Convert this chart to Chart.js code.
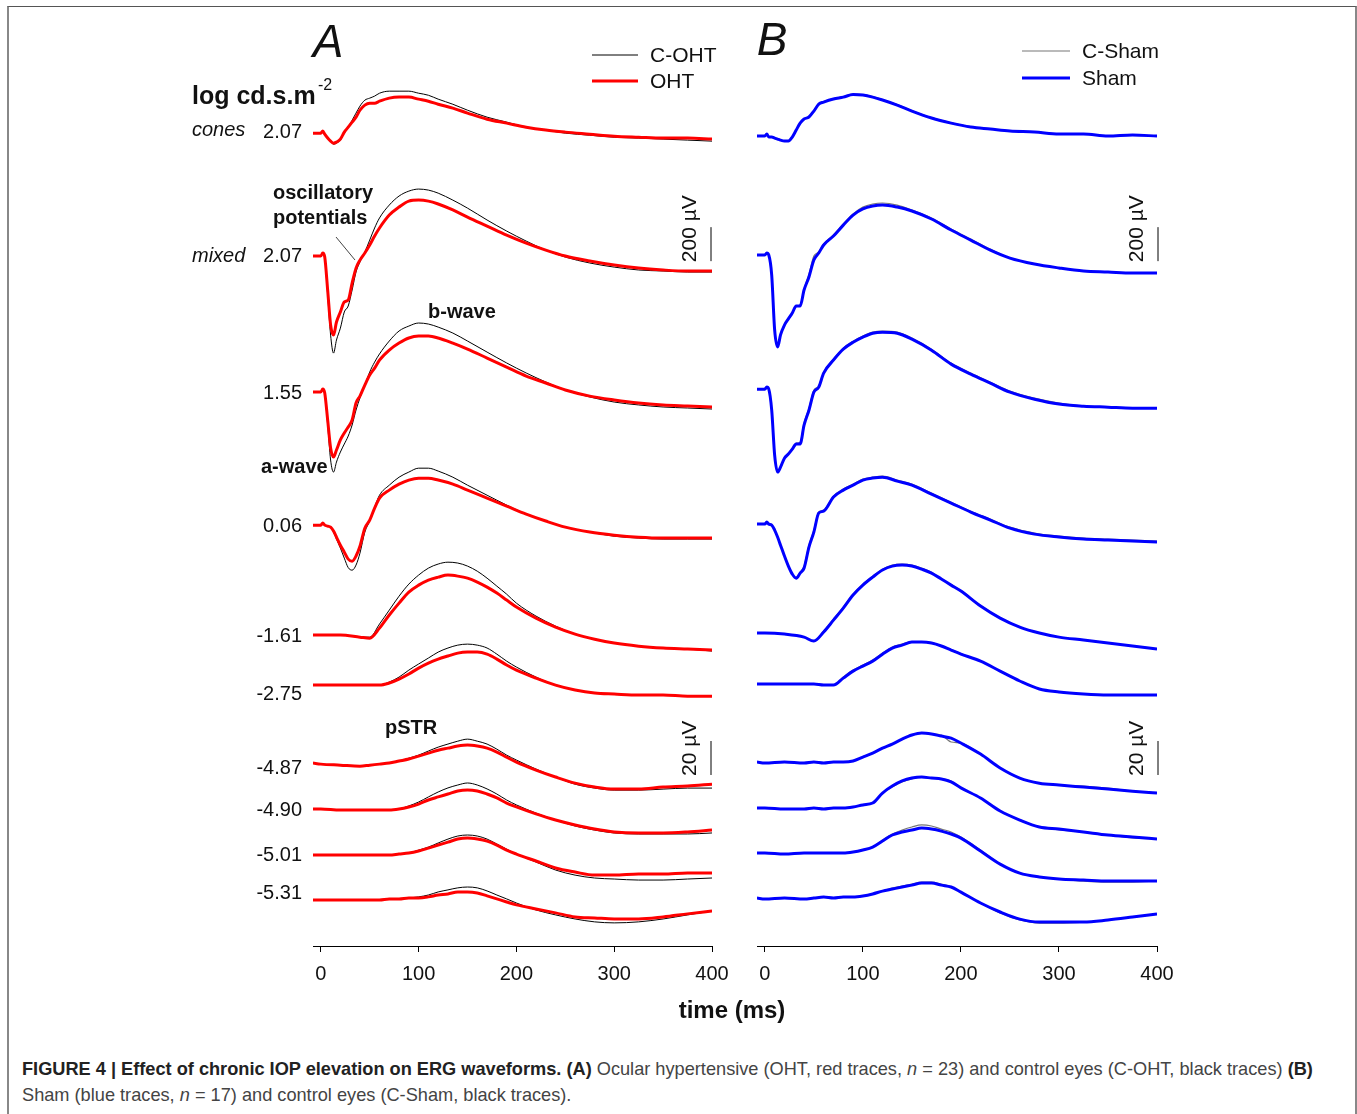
<!DOCTYPE html>
<html>
<head>
<meta charset="utf-8">
<script src="https://cdn.jsdelivr.net/npm/chart.js@4.4.1/dist/chart.umd.min.js"></script>
<style>
  body { margin: 0; background: #fff; font-family: "Liberation Sans", Arial, sans-serif; }
  #fig { position: relative; width: 1357px; height: 1114px; overflow: hidden; }
  #frame { position: absolute; left: 7px; top: 6px; width: 1346px; height: 1200px; border-top: 1px solid #555; border-left: 2px solid #888; border-right: 2px solid #888; }
  canvas { position: absolute; left: 0; top: 0; }
  #xtitle { position: absolute; left: 632px; width: 200px; top: 996px; text-align: center; font-weight: bold; font-size: 24px; color: #111; }
  #caption { position: absolute; left: 22px; top: 1056px; font-size: 18.2px; line-height: 26px; color: #444; white-space: nowrap; }
  #caption b { color: #222; }
</style>
</head>
<body>
<div id="fig">
  <div id="frame"></div>
  <canvas id="chartA" width="1357" height="1040"></canvas>
  <canvas id="chartB" width="1357" height="1040"></canvas>
  <div id="xtitle">time (ms)</div>
  <div id="caption"><b>FIGURE 4 | Effect of chronic IOP elevation on ERG waveforms. (A)</b> Ocular hypertensive (OHT, red traces, <i>n</i> = 23) and control eyes (C-OHT, black traces) <b>(B)</b><br>Sham (blue traces, <i>n</i> = 17) and control eyes (C-Sham, black traces).</div>
</div>
<script>
// time samples (ms) - bright flashes need fine steps around the a-wave
const tBright = [-8, 0, 2, 4, 7, 10, 13, 16, 20, 24, 28, 32, 36, 40, 45, 50, 55, 60, 70, 80, 90, 100, 110, 120, 135, 150, 170, 190, 210, 230, 250, 275, 300, 325, 350, 375, 400];
const tDim = [-8, 0, 20, 40, 50, 60, 70, 80, 90, 100, 110, 120, 130, 140, 150, 160, 170, 180, 190, 200, 220, 240, 260, 280, 300, 325, 350, 375, 400];
const xTicks = [0, 100, 200, 300, 400];

// flash intensities, log cd.s.m-2
const levels = ['2.07', '2.07', '1.55', '0.06', '-1.61', '-2.75', '-4.87', '-4.90', '-5.01', '-5.31'];
// pSTR traces are drawn at 10x gain (20 uV bar)
const gains = [1, 1, 1, 1, 1, 1, 10, 10, 10, 10];

// panel A - OHT (red) and C-OHT (black), uV
const ohtCones207 = [0, 0, 12, -6, -29, -47, -59, -53, -35, 6, 35, 65, 94, 135, 165, 176, 176, 188, 206, 212, 212, 200, 188, 170, 147, 118, 82, 59, 35, 18, 6, -6, -18, -24, -29, -29, -35];
const cohtCones207 = [0, 0, 12, -6, -29, -47, -65, -59, -41, 0, 35, 76, 118, 159, 194, 206, 218, 235, 247, 247, 247, 235, 223, 200, 170, 135, 94, 65, 35, 18, 0, -12, -24, -29, -35, -41, -47];
const ohtMixed207 = [0, 0, 18, -6, -200, -406, -465, -388, -329, -270, -259, -159, -71, -24, 18, 65, 118, 165, 241, 288, 323, 329, 323, 306, 271, 229, 176, 123, 76, 35, 0, -29, -53, -71, -82, -88, -88];
const cohtMixed207 = [0, 0, 18, -6, -229, -465, -571, -494, -424, -329, -294, -200, -94, -35, 24, 94, 165, 224, 300, 353, 382, 394, 388, 370, 329, 282, 212, 147, 88, 35, -6, -41, -65, -82, -88, -94, -94];
const oht155 = [0, 0, 18, -6, -165, -329, -382, -341, -282, -241, -206, -165, -65, -24, 41, 100, 141, 188, 247, 288, 318, 329, 329, 318, 288, 253, 200, 147, 94, 53, 12, -24, -47, -65, -76, -82, -88];
const coht155 = [0, 0, 18, -6, -194, -400, -471, -412, -353, -306, -259, -194, -106, -35, 41, 118, 176, 224, 300, 359, 388, 406, 400, 382, 347, 300, 235, 171, 112, 59, 12, -29, -59, -76, -88, -94, -100];
const oht006 = [0, 0, 12, 0, -6, -12, -35, -71, -118, -159, -200, -212, -182, -124, -18, 29, 100, 159, 206, 241, 265, 276, 276, 265, 241, 206, 159, 112, 65, 24, -12, -41, -59, -71, -76, -76, -76];
const coht006 = [0, 0, 12, 0, -6, -12, -41, -82, -135, -194, -250, -265, -235, -165, -41, 24, 106, 176, 235, 282, 312, 335, 335, 318, 282, 235, 176, 118, 65, 24, -12, -41, -65, -76, -82, -82, -82];
const ohtM161 = [0, 0, 0, -12, -18, 41, 118, 188, 253, 294, 324, 341, 353, 347, 335, 312, 282, 247, 206, 165, 100, 47, 6, -24, -47, -65, -76, -82, -88];
const cohtM161 = [0, 0, 0, -12, -12, 65, 147, 229, 300, 353, 394, 418, 429, 424, 406, 376, 335, 288, 241, 188, 112, 53, 6, -24, -47, -65, -76, -82, -94];
const ohtM275 = [0, 0, 0, 0, 0, 0, 12, 35, 65, 100, 129, 153, 171, 188, 194, 194, 182, 153, 118, 88, 41, 0, -29, -47, -53, -59, -59, -65, -65];
const cohtM275 = [0, 0, 0, 0, 0, 0, 18, 47, 88, 124, 159, 194, 218, 235, 241, 235, 218, 182, 141, 106, 47, 0, -29, -47, -53, -59, -59, -65, -65];
const ohtM487 = [0, -0.6, -1.2, -1.8, -1.2, -0.6, 0, 1.2, 2.4, 4.1, 5.9, 7.6, 8.8, 10, 10.6, 10, 8.8, 6.5, 3.5, 0.6, -4.1, -8.2, -11.8, -14.1, -15.3, -15.3, -14.1, -13.5, -12.4];
const cohtM487 = [0, -0.6, -1.2, -1.8, -1.2, -0.6, 0, 1.2, 2.9, 4.7, 7.1, 9.4, 11.2, 12.9, 14.1, 12.9, 11.2, 8.2, 4.7, 1.8, -3.5, -8.2, -12.4, -14.7, -15.9, -15.9, -15.3, -14.7, -14.7];
const ohtM490 = [0, 0, -0.6, -0.6, -0.6, -0.6, -0.6, 0, 1.2, 2.9, 5.3, 7.1, 8.8, 10.6, 11.2, 10.6, 8.8, 6.5, 3.5, 1.2, -2.9, -6.5, -9.4, -11.8, -13.5, -14.1, -14.1, -13.5, -12.4];
const cohtM490 = [0, 0, -0.6, -0.6, -0.6, -0.6, -0.6, 0, 1.8, 4.1, 7.1, 10, 12.4, 14.1, 15.3, 14.1, 11.8, 8.8, 5.3, 2.4, -2.4, -6.5, -10, -12.4, -14.1, -14.7, -14.7, -14.7, -14.1];
const ohtM501 = [0, 0, 0, 0, 0, 0, 0, 0.6, 1.2, 2.4, 4.1, 5.9, 7.6, 9.4, 10, 9.4, 8.2, 5.9, 2.9, 0.6, -3.5, -7.6, -10, -11.8, -11.8, -11.2, -11.2, -10.6, -10.6];
const cohtM501 = [0, 0, 0, 0, 0, 0, 0, 0.6, 1.2, 2.9, 4.7, 7.1, 9.4, 11.2, 11.8, 11.2, 9.4, 6.5, 3.5, 0.6, -4.1, -8.8, -11.8, -13.5, -14.1, -14.7, -14.7, -14.1, -13.5];
const ohtM531 = [0, 0, 0, 0, 0, 0, 0.6, 0.6, 1.2, 1.2, 1.8, 2.9, 3.5, 4.7, 4.7, 4.1, 2.4, 0.6, -1.2, -2.9, -5.3, -7.6, -10, -10.6, -11.2, -11.2, -10, -8.2, -6.5];
const cohtM531 = [0, 0, 0, 0, 0, 0, 0.6, 0.6, 1.2, 1.8, 2.9, 4.7, 5.9, 7.1, 7.6, 7.1, 5.3, 2.9, 0.6, -1.8, -5.9, -8.8, -11.2, -12.9, -13.5, -12.9, -11.2, -8.8, -6.5];

// panel B - Sham (blue) and C-Sham (grey), uV
const shamCones207 = [0, 0, 12, -6, -6, -12, -18, -24, -29, -29, -6, 35, 76, 100, 112, 147, 188, 200, 218, 229, 244, 241, 229, 212, 182, 147, 106, 76, 53, 41, 29, 24, 12, 12, 0, 6, 0];
const cshamCones207 = [0, 0, 12, -6, -6, -12, -18, -24, -29, -29, -6, 35, 76, 100, 112, 150, 190, 203, 220, 232, 247, 244, 232, 215, 185, 150, 108, 78, 55, 42, 30, 24, 14, 12, 2, 6, 0];
const shamMixed207 = [0, 0, 12, 0, -118, -441, -541, -470, -412, -376, -341, -300, -300, -206, -129, -29, 12, 59, 112, 176, 235, 271, 288, 294, 282, 259, 212, 147, 88, 29, -18, -53, -76, -94, -100, -106, -106];
const cshamMixed207 = [0, 0, 12, 0, -118, -441, -541, -470, -412, -376, -341, -300, -294, -200, -112, -6, 18, 65, 118, 182, 241, 282, 300, 306, 294, 265, 218, 153, 94, 35, -18, -53, -76, -94, -100, -106, -106];
const sham155 = [0, 0, 12, 0, -124, -388, -488, -459, -406, -382, -353, -323, -323, -212, -124, -18, 12, 94, 171, 235, 276, 306, 329, 335, 329, 294, 229, 147, 88, 35, -18, -59, -88, -100, -106, -112, -112];
const csham155 = [0, 0, 12, 0, -124, -388, -488, -459, -406, -382, -353, -318, -312, -200, -112, -6, 18, 100, 176, 241, 282, 312, 335, 341, 335, 300, 235, 153, 94, 41, -12, -53, -82, -100, -106, -112, -112];
const sham006 = [0, 0, 12, 0, -6, -35, -76, -124, -188, -247, -294, -318, -288, -259, -135, -47, 65, 76, 159, 200, 229, 259, 271, 276, 253, 229, 176, 124, 71, 24, -24, -59, -76, -88, -94, -100, -106];
const csham006 = [0, 0, 12, 0, -6, -35, -76, -124, -188, -247, -294, -318, -282, -247, -124, -35, 71, 82, 165, 206, 235, 265, 276, 282, 259, 235, 182, 129, 76, 29, -18, -53, -71, -82, -88, -94, -100];
const shamM161 = [0, 0, -6, -24, -47, 6, 76, 147, 224, 282, 329, 371, 394, 400, 394, 376, 353, 318, 282, 247, 159, 88, 35, 0, -24, -41, -59, -76, -94];
const cshamM161 = [0, 0, -6, -24, -47, 12, 82, 153, 229, 288, 335, 376, 400, 406, 400, 382, 357, 320, 285, 250, 162, 90, 35, 0, -24, -41, -59, -76, -94];
const shamM275 = [0, 0, 0, 0, 0, -6, -6, 35, 76, 106, 135, 176, 212, 229, 247, 247, 241, 224, 200, 176, 135, 76, 18, -29, -47, -59, -65, -65, -65];
const cshamM275 = [0, 0, 0, 0, 0, -6, -6, 41, 82, 112, 141, 182, 218, 235, 250, 250, 244, 226, 203, 178, 135, 76, 18, -29, -47, -59, -65, -65, -65];
const shamM487 = [0, -0.6, 0, -0.6, 0, -0.6, 0, 0, 0.6, 2.9, 5.3, 8.2, 10.6, 13.5, 15.9, 17.1, 16.5, 15.3, 14.1, 11.2, 4.7, -3.5, -9.4, -12.4, -13.5, -14.7, -15.9, -17.1, -18.2];
const cshamM487 = [0, -0.6, 0, -0.6, 0, -0.6, 0, 0, 0.6, 2.9, 5.3, 8.2, 10.6, 13.5, 15.9, 17.1, 16.5, 15.9, 11.8, 11.2, 4.7, -3.5, -9.4, -12.4, -13.5, -14.1, -15.3, -17.1, -18.2];
const shamM490 = [0, 0, -0.6, -0.6, 0, -0.6, 0, 0, 0.6, 1.8, 2.9, 8.8, 12.9, 15.9, 17.6, 18.2, 17.6, 17.1, 15.3, 11.8, 5.9, -1.8, -7.1, -11.2, -12.4, -14.1, -15.9, -17.1, -18.2];
const cshamM490 = [0, 0, -0.6, -0.6, 0, -0.6, 0, 0, 0.6, 1.8, 2.9, 8.8, 12.4, 15.3, 17.1, 18.2, 17.6, 17.1, 15.9, 11.8, 5.9, -1.8, -7.1, -11.2, -12.9, -14.1, -15.9, -17.6, -18.2];
const shamM501 = [0, 0, -0.6, 0, 0, 0, 0, 0, 0.6, 1.8, 3.5, 7.1, 10.6, 12.4, 13.5, 14.7, 14.1, 12.9, 11.2, 8.8, 1.2, -6.5, -11.8, -14.1, -15.3, -15.9, -16.5, -16.5, -16.5];
const cshamM501 = [0, 0, -0.6, 0, 0, 0, 0, 0, 0.6, 1.8, 3.5, 7.6, 11.2, 13.5, 15.3, 16.5, 15.9, 14.1, 12.4, 9.4, 1.8, -6.5, -11.8, -14.1, -15.3, -16.5, -17.1, -17.1, -16.5];
const shamM531 = [0, -0.6, 0, -0.6, 0, 0.6, 0, 0.6, 0.6, 1.2, 2.4, 4.1, 5.3, 6.5, 7.6, 8.8, 8.8, 7.6, 6.5, 3.5, -2.9, -8.2, -12.4, -14.1, -14.1, -14.1, -12.9, -11.2, -9.4];
const cshamM531 = [0, -0.6, 0, -0.6, 0, 0.6, 0, 0.6, 0.6, 1.2, 2.4, 4.1, 5.9, 7.1, 8.2, 9.4, 9.4, 8.2, 6.5, 3.5, -2.9, -8.8, -12.9, -14.7, -14.7, -14.1, -12.9, -11.2, -9.4];

const ohtList = [ohtCones207, ohtMixed207, oht155, oht006, ohtM161, ohtM275, ohtM487, ohtM490, ohtM501, ohtM531];
const cohtList = [cohtCones207, cohtMixed207, coht155, coht006, cohtM161, cohtM275, cohtM487, cohtM490, cohtM501, cohtM531];
const shamList = [shamCones207, shamMixed207, sham155, sham006, shamM161, shamM275, shamM487, shamM490, shamM501, shamM531];
const cshamList = [cshamCones207, cshamMixed207, csham155, csham006, cshamM161, cshamM275, cshamM487, cshamM490, cshamM501, cshamM531];

// layout: where each trace's baseline sits on the stacked y axis (display units)
const baseA = [4782, 4059, 3259, 2476, 1829, 1535, 1076, 806, 535, 271];
const baseB = [4765, 4065, 3276, 2482, 1841, 1541, 1082, 812, 547, 282];
const labelNudge = [-1, 0, 1, 1, 1, 9, 5, 1, 0, -6];
const Y_MAX = 5330;

const FONT = '"Liberation Sans", Arial, sans-serif';

// builds the stacked line datasets for one group
function buildSets(list, base, color, width, order) {
    return list.map((vals, i) => {
        const t = i < 4 ? tBright : tDim;
        return {
            data: vals.map((v, k) => ({ x: t[k], y: base[i] + gains[i] * v })),
            borderColor: color,
            borderWidth: width,
            pointRadius: 0,
            cubicInterpolationMode: 'monotone',
            fill: false,
            order: order
        };
    });
}

function txt(ctx, s, x, y, font, align) {
    ctx.font = font;
    ctx.textAlign = align || 'left';
    ctx.textBaseline = 'middle';
    ctx.fillText(s, x, y);
}

// vertical calibration bar next to the traces
function scaleBar(ctx, chart, x, footValue, len, gain, label) {
    const ys = chart.scales.y;
    const yb = ys.getPixelForValue(footValue);
    const yt = ys.getPixelForValue(footValue + len * gain);
    ctx.strokeStyle = '#000';
    ctx.lineWidth = 1;
    ctx.beginPath();
    ctx.moveTo(x, yb);
    ctx.lineTo(x, yt);
    ctx.stroke();
    ctx.save();
    ctx.translate(x - 21, yb + 1);
    ctx.rotate(-Math.PI / 2);
    txt(ctx, label, 0, 0, '21px ' + FONT, 'left');
    ctx.restore();
}

function legendLine(ctx, x1, x2, y, color, w) {
    ctx.strokeStyle = color;
    ctx.lineWidth = w;
    ctx.beginPath();
    ctx.moveTo(x1, y);
    ctx.lineTo(x2, y);
    ctx.stroke();
}

const annotA = {
    id: 'annotA',
    afterDraw(chart) {
        const ctx = chart.ctx, ys = chart.scales.y, xs = chart.scales.x;
        ctx.save();
        ctx.fillStyle = '#111';
        txt(ctx, 'A', 328, 44, 'italic 46px ' + FONT, 'center');
        legendLine(ctx, 592, 638, 55, '#000', 1);
        legendLine(ctx, 592, 638, 81, '#f00', 3);
        txt(ctx, 'C-OHT', 650, 56, '21px ' + FONT);
        txt(ctx, 'OHT', 650, 82, '21px ' + FONT);
        txt(ctx, 'log cd.s.m', 192, 97, 'bold 25px ' + FONT);
        txt(ctx, '-2', 318, 86, '16px ' + FONT);
        txt(ctx, 'cones', 192, 130, 'italic 20px ' + FONT);
        txt(ctx, 'mixed', 192, 256, 'italic 20px ' + FONT);
        levels.forEach((s, i) => {
            txt(ctx, s, 302, ys.getPixelForValue(baseA[i]) + labelNudge[i], '20px ' + FONT, 'right');
        });
        txt(ctx, 'oscillatory', 273, 193, 'bold 20px ' + FONT);
        txt(ctx, 'potentials', 273, 218, 'bold 20px ' + FONT);
        ctx.strokeStyle = '#444';
        ctx.lineWidth = 1;
        ctx.beginPath();
        ctx.moveTo(336, 237);
        ctx.lineTo(355, 260);
        ctx.stroke();
        txt(ctx, 'b-wave', 428, 312, 'bold 20px ' + FONT);
        txt(ctx, 'a-wave', 261, 467, 'bold 20px ' + FONT);
        txt(ctx, 'pSTR', 385, 728, 'bold 20px ' + FONT);
        const bx = xs.getPixelForValue(400) - 1;
        scaleBar(ctx, chart, bx, 4029, 200, 1, '200 \u00b5V');
        scaleBar(ctx, chart, bx, 1006, 20, 10, '20 \u00b5V');
        ctx.restore();
    }
};

const annotB = {
    id: 'annotB',
    afterDraw(chart) {
        const ctx = chart.ctx, xs = chart.scales.x;
        ctx.save();
        ctx.fillStyle = '#111';
        txt(ctx, 'B', 772, 42, 'italic 46px ' + FONT, 'center');
        legendLine(ctx, 1022, 1070, 51, '#777', 1.2);
        legendLine(ctx, 1022, 1070, 78, '#00f', 3);
        txt(ctx, 'C-Sham', 1082, 52, '21px ' + FONT);
        txt(ctx, 'Sham', 1082, 79, '21px ' + FONT);
        const bx = xs.getPixelForValue(400) + 1;
        scaleBar(ctx, chart, bx, 4029, 200, 1, '200 \u00b5V');
        scaleBar(ctx, chart, bx, 1006, 20, 10, '20 \u00b5V');
        ctx.restore();
    }
};

function makeChart(id, sets, padLeft, padRight, plugin) {
    return new Chart(document.getElementById(id), {
        type: 'line',
        data: { datasets: sets },
        options: {
            responsive: false,
            animation: false,
            events: [],
            layout: { padding: { left: padLeft, right: padRight, top: 40, bottom: 34 } },
            plugins: { legend: { display: false }, tooltip: { enabled: false } },
            scales: {
                x: {
                    type: 'linear', min: -8, max: 400,
                    afterBuildTicks: s => { s.ticks = xTicks.map(v => ({ value: v })); },
                    afterFit: s => { s.height = 60; },
                    grid: { display: true, drawOnChartArea: false, drawTicks: true, tickLength: 6, color: '#000', lineWidth: 1 },
                    border: { display: true, color: '#000', width: 1 },
                    ticks: { color: '#111', font: { family: FONT, size: 20 }, padding: 10, maxRotation: 0, autoSkip: false }
                },
                y: { display: false, min: 0, max: Y_MAX }
            }
        },
        plugins: [plugin]
    });
}

// red/blue drawn on top of the thin control traces
const setsA = buildSets(ohtList, baseA, '#f00', 3, 1).concat(buildSets(cohtList, baseA, '#000', 1, 2));
const setsB = buildSets(shamList, baseB, '#00f', 3, 1).concat(buildSets(cshamList, baseB, '#777', 1.2, 2));

makeChart('chartA', setsA, 313, 1357 - 712, annotA);
makeChart('chartB', setsB, 757, 1357 - 1157, annotB);
</script>
</body>
</html>
